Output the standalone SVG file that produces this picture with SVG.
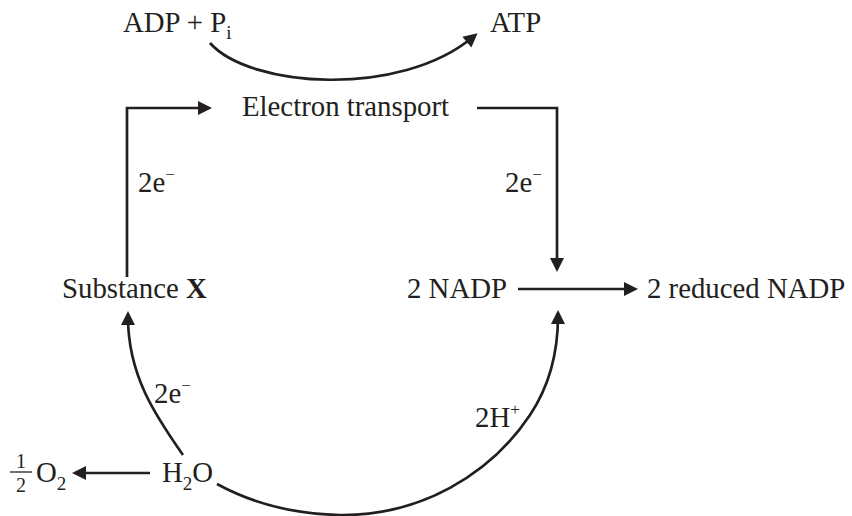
<svg xmlns="http://www.w3.org/2000/svg" width="852" height="516" viewBox="0 0 852 516">
<style>
text{font-family:"Liberation Serif","Times New Roman",serif;font-size:28.8px;fill:#231f20}
.sub{font-size:19px}
.frac{font-size:20px}
.sup{font-size:17px}
.c{fill:none;stroke:#231f20;stroke-width:2.7}
</style>
<defs>
<marker id="ah" markerUnits="userSpaceOnUse" markerWidth="16" markerHeight="15" refX="8" refY="7" orient="auto" overflow="visible">
<path d="M0,0 L14,7 L0,14 z" fill="#231f20"/>
</marker>
</defs>
<rect width="852" height="516" fill="#fff"/>
<g id="adp"><text x="123" y="32">ADP + P<tspan class="sub" dy="7">i</tspan></text></g>
<g id="atp"><text x="490" y="32">ATP</text></g>
<g id="et"><text x="242" y="116">Electron transport</text></g>
<g id="substx"><text x="62" y="298">Substance <tspan font-weight="bold">X</tspan></text></g>
<g id="nadp"><text x="407" y="298">2 NADP</text></g>
<g id="rnadp"><text x="647" y="298">2 reduced NADP</text></g>
<g id="h2o"><text x="162" y="482">H<tspan class="sub" dy="8">2</tspan><tspan dy="-8">O</tspan></text></g>
<g id="o2">
<text class="frac" x="16" y="468">1</text>
<line x1="10" y1="472" x2="32" y2="472" stroke="#231f20" stroke-width="1.3"/>
<text class="frac" x="16" y="492">2</text>
<text x="36" y="482">O<tspan class="sub" dy="8">2</tspan></text>
</g>
<g id="labels">
<text x="138" y="192">2e<tspan class="sup" dy="-12">−</tspan></text>
<text x="505" y="192">2e<tspan class="sup" dy="-12">−</tspan></text>
<text x="154" y="403">2e<tspan class="sup" dy="-12">−</tspan></text>
<text x="475" y="427">2H<tspan class="sup" dy="-12">+</tspan></text>
</g>
<g id="connectors">
<path class="c" marker-end="url(#ah)" d="M210,43 C 250,88 400,98 473,37"/>
<path class="c" marker-end="url(#ah)" d="M127,277 V108 H206"/>
<path class="c" marker-end="url(#ah)" d="M477,108 H557 V266"/>
<path class="c" marker-end="url(#ah)" d="M518,289 H632"/>
<path class="c" marker-end="url(#ah)" d="M150,473 H78"/>
<path class="c" marker-end="url(#ah)" d="M183,455 C 155,415 128,375 128,317"/>
<path class="c" marker-end="url(#ah)" d="M217,484 C 250,502 290,514 340,515 C 420,516 490,475 530,415 C 550,385 558,350 558,316"/>
</g>
</svg>
